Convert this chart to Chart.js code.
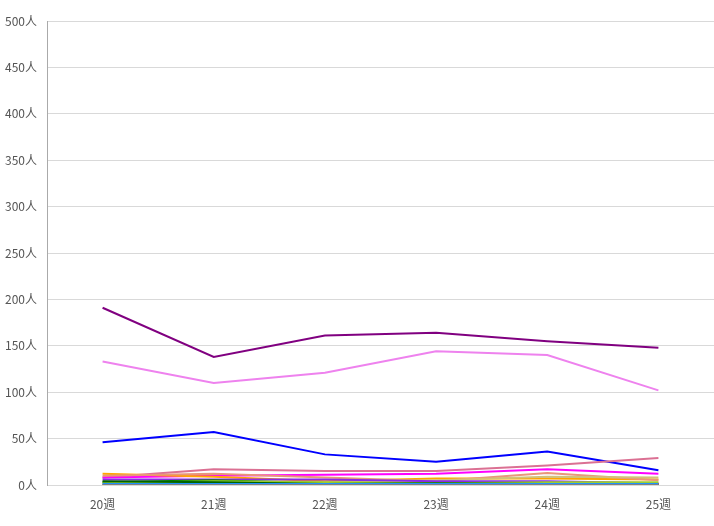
<!DOCTYPE html>
<html>
<head>
<meta charset="utf-8">
<script src="https://cdn.jsdelivr.net/npm/chart.js@4/dist/chart.umd.min.js"></script>
<style>
  html, body { margin: 0; padding: 0; background: #fff; }
  #wrap { width: 714px; height: 526px; }
</style>
</head>
<body>
<div id="wrap"><canvas id="chart"></canvas></div>
<script>
// weeks on the x axis
const weeks = ['20週', '21週', '22週', '23週', '24週', '25週'];

// one array per line (people per week)
const purpleVals = [191, 138, 161, 164, 155, 148];
const violetVals = [133, 110, 121, 144, 140, 102];
const blueVals = [46, 57, 33, 25, 36, 16];
const paleRedVals = [8, 17, 15, 15, 21, 29];
const magentaVals = [8, 10, 11, 12, 17, 12];
const orangeVals = [12, 9, 4, 7, 7, 6];
const salmonVals = [10, 12, 8, 4, 13, 5];
const khakiVals = [3, 3, 3, 5, 9, 8];
const blueVioletVals = [6, 6, 6, 4, 4, 2];
const greenVals = [3, 5, 2, 1, 2, 1];
const yellowGreenVals = [2, 4, 3, 2, 3, 3];
const darkGreenVals = [4, 3, 1, 2, 1, 0];
const redVals = [0, 1, 0, 0, 0, 1];
const dodgerVals = [1, 1, 1, 1, 1, 1];
const grayVals = [0, 0, 0, 0, 0, 0];

const series = [
  { data: grayVals, color: '#808080' },
  { data: dodgerVals, color: '#1e90ff' },
  { data: redVals, color: '#ff0000' },
  { data: darkGreenVals, color: '#006400' },
  { data: yellowGreenVals, color: '#9acd32' },
  { data: greenVals, color: '#008000' },
  { data: blueVioletVals, color: '#8a2be2' },
  { data: khakiVals, color: '#d2c27a' },
  { data: salmonVals, color: '#e9967a' },
  { data: orangeVals, color: '#ffa500' },
  { data: magentaVals, color: '#ff00ff' },
  { data: paleRedVals, color: '#db7093' },
  { data: blueVals, color: '#0000ff' },
  { data: violetVals, color: '#ee82ee' },
  { data: purpleVals, color: '#800080' },
];

const tickFont = { family: "'Noto Sans CJK SC', 'DejaVu Sans', sans-serif", size: 12 };

new Chart(document.getElementById('chart'), {
  type: 'line',
  data: {
    labels: weeks,
    datasets: series.map(s => ({
      data: s.data,
      borderColor: s.color,
      backgroundColor: s.color,
      borderWidth: 2,
      pointRadius: 0,
      tension: 0,
      fill: false,
    })),
  },
  options: {
    responsive: true,
    maintainAspectRatio: false,
    animation: false,
    layout: { padding: { top: 21, right: 0, bottom: 0, left: 0 } },
    plugins: { legend: { display: false }, tooltip: { enabled: false } },
    scales: {
      x: {
        offset: true,
        grid: { display: false },
        border: { display: false },
        ticks: { color: '#555', font: tickFont, padding: 4, maxRotation: 0 },
        afterFit: s => { s.height = 41; },
      },
      y: {
        min: 0,
        max: 500,
        grid: { color: '#d9d9d9', drawTicks: false },
        border: { color: '#aaaaaa' },
        ticks: {
          stepSize: 50,
          color: '#555',
          font: tickFont,
          padding: 10,
          callback: v => v + '人',
        },
        afterFit: s => { s.width = 47; },
      },
    },
  },
});
</script>
</body>
</html>
